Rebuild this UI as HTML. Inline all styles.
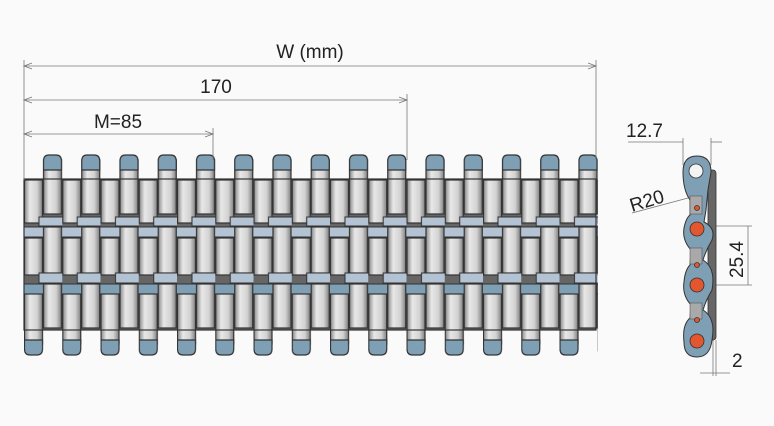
<!DOCTYPE html>
<html><head><meta charset="utf-8"><style>
html,body{margin:0;padding:0;background:#fafafa;}
svg{display:block;font-family:"Liberation Sans",sans-serif;}
</style></head><body>
<svg width="774" height="426" viewBox="0 0 774 426" xmlns="http://www.w3.org/2000/svg">
<defs>
<linearGradient id="g" x1="0" x2="1" y1="0" y2="0">
<stop offset="0" stop-color="#8a8a8a"/><stop offset="0.3" stop-color="#e8e8e8"/><stop offset="0.7" stop-color="#d2d2d2"/><stop offset="1" stop-color="#808080"/>
</linearGradient>
<pattern id="p" patternUnits="userSpaceOnUse" x="24" y="0" width="38.25" height="426">
<!-- row 1 -->
<rect x="0.5" y="180" width="18" height="43" fill="url(#g)" stroke="#333" stroke-width="1.2"/>
<rect x="19.5" y="160" width="18" height="54" fill="url(#g)" stroke="#333" stroke-width="1.2"/>
<rect x="15" y="217" width="27" height="9" fill="#b3c3d3" stroke="#333" stroke-width="1"/>
<rect x="-3" y="227" width="25" height="10" fill="#b3c3d3" stroke="#333" stroke-width="1"/>
<rect x="35" y="227" width="6" height="10" fill="#b3c3d3" stroke="#333" stroke-width="1"/>
<!-- row 2 -->
<rect x="0.5" y="238" width="18" height="37" fill="url(#g)" stroke="#333" stroke-width="1.2"/>
<rect x="19.5" y="227" width="18" height="46" fill="url(#g)" stroke="#333" stroke-width="1.2"/>
<rect x="15" y="273" width="27" height="10" fill="#b3c3d3" stroke="#333" stroke-width="1"/>
<rect x="-3" y="284" width="25" height="10" fill="#7f9fb5" stroke="#333" stroke-width="1"/>
<rect x="35" y="284" width="6" height="10" fill="#7f9fb5" stroke="#333" stroke-width="1"/>
<!-- row 3 -->
<rect x="0.5" y="294" width="18" height="50" fill="url(#g)" stroke="#333" stroke-width="1.2"/>
<rect x="19.5" y="284" width="18" height="44" fill="url(#g)" stroke="#333" stroke-width="1.2"/>
<!-- knobs -->
<path d="M19.5 170 V161 Q19.5 155 25 155 H32 Q37.5 155 37.5 161 V170 Z" fill="#7f9fb5" stroke="#333" stroke-width="1.2"/>
<path d="M0.5 340 V349 Q0.5 355 6 355 H13 Q18.5 355 18.5 349 V340 Z" fill="#7f9fb5" stroke="#333" stroke-width="1.2"/>
</pattern>
</defs>

<rect x="24" y="179" width="572" height="151" fill="#666"/>
<rect x="24" y="150" width="574" height="210" fill="url(#p)"/>
<rect x="24" y="179" width="572" height="151" fill="none" stroke="#333" stroke-width="1.2"/>

<g stroke="#777" stroke-width="0.8" fill="none">
<line x1="24" y1="60" x2="24" y2="180"/>
<line x1="596" y1="60" x2="596" y2="160"/>
<line x1="407" y1="94" x2="407" y2="160"/>
<line x1="213" y1="128" x2="213" y2="160"/>
<line x1="24" y1="66" x2="596" y2="66"/>
<line x1="24" y1="100" x2="407" y2="100"/>
<line x1="24" y1="134" x2="213" y2="134"/>
<path d="M32 63 L24 66 L32 69 M588 63 L596 66 L588 69 M32 97 L24 100 L32 103 M399 97 L407 100 L399 103 M32 131 L24 134 L32 137 M205 131 L213 134 L205 137"/>
</g>
<g fill="#222" font-size="19" text-anchor="middle">
<text x="310" y="58">W (mm)</text>
<text x="216" y="93">170</text>
<text x="118" y="128">M=85</text>
</g>

<g stroke="#777" stroke-width="0.8" fill="none">
<line x1="628" y1="142" x2="683" y2="142"/>
<line x1="711" y1="142" x2="722" y2="142"/>
<line x1="683" y1="138" x2="683" y2="165"/>
<line x1="711" y1="138" x2="711" y2="165"/>
<line x1="632" y1="213" x2="688" y2="198"/>
<line x1="715" y1="226" x2="752" y2="226"/>
<line x1="715" y1="285" x2="752" y2="285"/>
<line x1="748" y1="226" x2="748" y2="285"/>
<line x1="713" y1="340" x2="713" y2="376"/>
<line x1="716" y1="340" x2="716" y2="376"/>
<line x1="700" y1="373" x2="730" y2="373"/>
</g>
<g fill="#222" font-size="19">
<text x="626" y="137">12.7</text>
<text x="632" y="212" transform="rotate(-17 632 212)">R20</text>
<text x="743" y="278" transform="rotate(-90 743 278)">25.4</text>
<text x="732" y="367">2</text>
</g>
<rect x="708" y="170" width="8" height="170" rx="3" fill="#666" stroke="#333" stroke-width="0.8"/>
<path d="M683 172 Q683 156 697 156 Q711 156 711 172 L708 190 L706 210 L704 222 Q716 228 712 240 Q706 250 703 260 Q716 268 712 290 Q706 300 703 310 Q716 318 712 340 Q710 357 697 357 Q684 357 684 342 Q682 325 690 318 L691 305 Q682 295 684 282 Q685 270 690 265 L691 250 Q682 240 684 228 Q686 218 690 215 L690 200 Q683 190 683 172 Z" fill="#7f9fb5" stroke="#333" stroke-width="1"/>
<circle cx="696" cy="171" r="7" fill="#f4f4f4" stroke="#333" stroke-width="0.8"/>
<rect x="690" y="196" width="12" height="18" fill="#a9a9a9" stroke="#555" stroke-width="0.6"/>
<rect x="690" y="248" width="12" height="16" fill="#a9a9a9" stroke="#555" stroke-width="0.6"/>
<rect x="690" y="303" width="12" height="16" fill="#a9a9a9" stroke="#555" stroke-width="0.6"/>
<g fill="#e4572e" stroke="#333" stroke-width="0.8">
<circle cx="697" cy="229" r="7"/><circle cx="697" cy="285" r="7"/><circle cx="697" cy="341" r="7"/>
<circle cx="697" cy="208" r="2.5"/><circle cx="697" cy="265" r="2.5"/><circle cx="697" cy="320" r="2.5"/>
</g>
</svg>
</body></html>
